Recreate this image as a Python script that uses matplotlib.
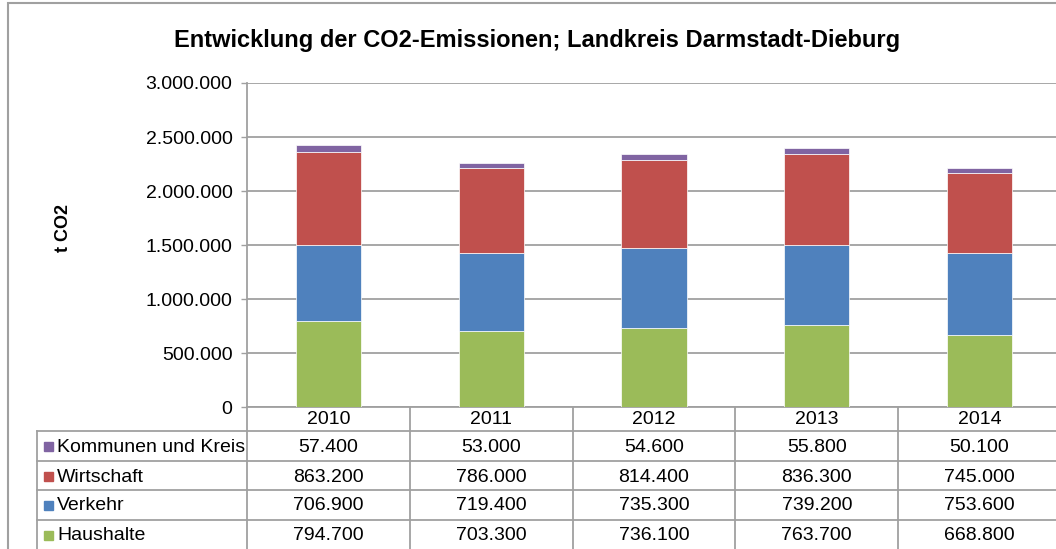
import matplotlib
matplotlib.use("Agg")
import matplotlib.pyplot as plt
from matplotlib import transforms
from matplotlib.lines import Line2D
from matplotlib.patches import Rectangle

# Daten (t CO2)
years = ["2010", "2011", "2012", "2013", "2014"]
haushalte = [794700, 703300, 736100, 763700, 668800]
verkehr = [706900, 719400, 735300, 739200, 753600]
wirtschaft = [863200, 786000, 814400, 836300, 745000]
kommunen = [57400, 53000, 54600, 55800, 50100]

series = [
    ("Haushalte", haushalte, "#9bbb59"),
    ("Verkehr", verkehr, "#4f81bd"),
    ("Wirtschaft", wirtschaft, "#c0504d"),
    ("Kommunen und Kreis", kommunen, "#8064a2"),
]

W, H = 1056, 549
GRID = "#a0a0a0"
plt.rcParams["font.family"] = ["Liberation Sans", "DejaVu Sans"]


def fx(px):
    return px / W


def fy(py):
    return 1 - py / H


def fmt(v):
    return f"{int(v):,}".replace(",", ".")


fig = plt.figure(figsize=(W / 100, H / 100), dpi=100)

# Rahmen des Diagrammbereichs
fig.add_artist(Rectangle((fx(8), fy(560)), fx(1100), fy(3) - fy(560),
                         transform=fig.transFigure, fill=False,
                         edgecolor="#a0a0a0", lw=1.5))

ax_left, ax_right, ax_top, ax_bottom = 247, 1061, 83, 407
ax = fig.add_axes([fx(ax_left), fy(ax_bottom), fx(ax_right - ax_left),
                   fy(ax_top) - fy(ax_bottom)])

x = list(range(len(years)))
bottom = [0] * len(years)
for name, vals, color in series:
    ax.bar(x, vals, width=0.4, bottom=bottom, color=color,
           edgecolor="#ffffff", linewidth=0.5, zorder=3)
    bottom = [b + v for b, v in zip(bottom, vals)]

ax.set_xlim(-0.5, len(years) - 0.5)
ax.set_ylim(0, 3000000)
ax.set_yticks(range(0, 3000001, 500000))
ax.set_yticklabels([fmt(v) for v in range(0, 3000001, 500000)], fontsize=14)
ax.set_xticks([])
ax.yaxis.grid(True, color=GRID, lw=1.3, zorder=0)
ax.tick_params(axis="y", length=4.5, width=1.0, color=GRID, pad=6)
for s in ["top", "right"]:
    ax.spines[s].set_visible(False)
ax.spines["left"].set_color(GRID)
ax.spines["left"].set_linewidth(1.3)
ax.spines["bottom"].set_color(GRID)
ax.spines["bottom"].set_linewidth(1.3)

fig.text(fx(537), fy(40), "Entwicklung der CO2-Emissionen; Landkreis Darmstadt-Dieburg",
         ha="center", va="center", fontsize=17, fontweight="bold")
fig.text(fx(63), fy(228), "t CO2", rotation=90, ha="center", va="center",
         fontsize=13, fontweight="bold")

# Datentabelle
tr = transforms.blended_transform_factory(ax.transData, fig.transFigure)
row_lines = [431, 461, 490, 520]
row_centers = [447, 477, 506, 536]
table_left = 37
for py in row_lines:
    fig.add_artist(Line2D([fx(table_left), fx(1100)], [fy(py), fy(py)],
                          transform=fig.transFigure, color=GRID, lw=1.3))
fig.add_artist(Line2D([fx(table_left), fx(table_left)], [fy(431), fy(560)],
                      transform=fig.transFigure, color=GRID, lw=1.3))
for i in range(len(years) + 1):
    xb = i - 0.5
    fig.add_artist(Line2D([xb, xb], [fy(407), fy(560)], transform=tr,
                          color=GRID, lw=1.3))

for i, yr in enumerate(years):
    fig.text(i, fy(419), yr, transform=tr, ha="center", va="center", fontsize=14)

for (name, vals, color), py in zip(series[::-1], row_centers):
    fig.add_artist(Rectangle((fx(44), fy(py + 4)), fx(9), fy(py - 5) - fy(py + 4),
                             transform=fig.transFigure, color=color))
    fig.text(fx(57), fy(py), name, ha="left", va="center", fontsize=14)
    for i, v in enumerate(vals):
        fig.text(i, fy(py), fmt(v), transform=tr, ha="center", va="center",
                 fontsize=14)

fig.savefig("out.png", dpi=100)
